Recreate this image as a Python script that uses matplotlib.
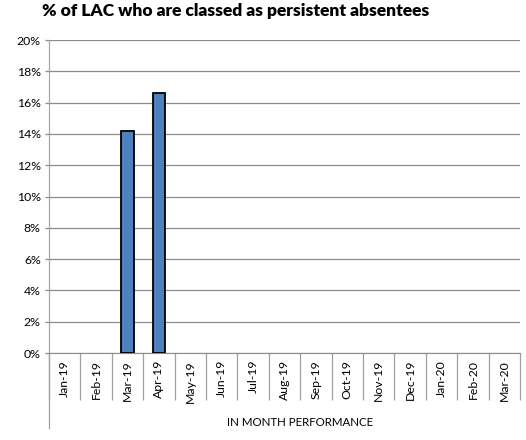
import matplotlib.pyplot as plt
from matplotlib.ticker import PercentFormatter, MultipleLocator, FixedLocator

plt.rcParams['font.family'] = ['Lato', 'DejaVu Sans']

nan = float('nan')
months = ['Jan-19', 'Feb-19', 'Mar-19', 'Apr-19', 'May-19', 'Jun-19', 'Jul-19',
          'Aug-19', 'Sep-19', 'Oct-19', 'Nov-19', 'Dec-19', 'Jan-20', 'Feb-20', 'Mar-20']
values = [nan, nan, 0.142, 0.166, nan, nan, nan, nan, nan, nan, nan, nan, nan, nan, nan]

fig = plt.figure(figsize=(5.26, 4.40), dpi=100)
ax = fig.add_axes([0.0932, 0.1977, 0.8954, 0.7113])

x = list(range(len(months)))
ax.bar(x, values, width=0.4, color='#4F81BD', edgecolor='black', linewidth=1.3, zorder=3)

ax.set_xlim(-0.5, len(months) - 0.5)
ax.set_ylim(0, 0.20)
ax.yaxis.set_major_locator(MultipleLocator(0.02))
ax.yaxis.set_major_formatter(PercentFormatter(1.0, decimals=0))
ax.grid(axis='y', color='#8c8c8c', linewidth=0.9, zorder=0)

# category labels and separators
ax.set_xticks(x)
ax.set_xticklabels(months, rotation=90, fontsize=8.8)
ax.tick_params(axis='x', which='major', length=0, pad=5)
ax.xaxis.set_minor_locator(FixedLocator([i - 0.5 for i in range(len(months) + 1)]))
ax.tick_params(axis='x', which='minor', length=34, width=0.9, color='#a0a0a0', direction='out')
ax.tick_params(axis='y', length=3, width=0.9, color='#8c8c8c', labelsize=8.8, pad=3)

for s in ['top', 'right']:
    ax.spines[s].set_visible(False)
ax.spines['left'].set_color('#a0a0a0')
ax.spines['bottom'].set_color('#8c8c8c')
ax.plot([0, 0], [-0.24, 0], transform=ax.transAxes, color='#a0a0a0',
        linewidth=0.9, clip_on=False)

ax.set_xlabel('IN MONTH PERFORMANCE', fontsize=8.3)
ax.xaxis.set_label_coords(0.533, -0.205)

fig.text(0.08, 0.993, '% of LAC who are classed as persistent absentees',
         fontsize=12.5, fontweight='heavy', ha='left', va='top')

fig.savefig('out.png', dpi=100)
